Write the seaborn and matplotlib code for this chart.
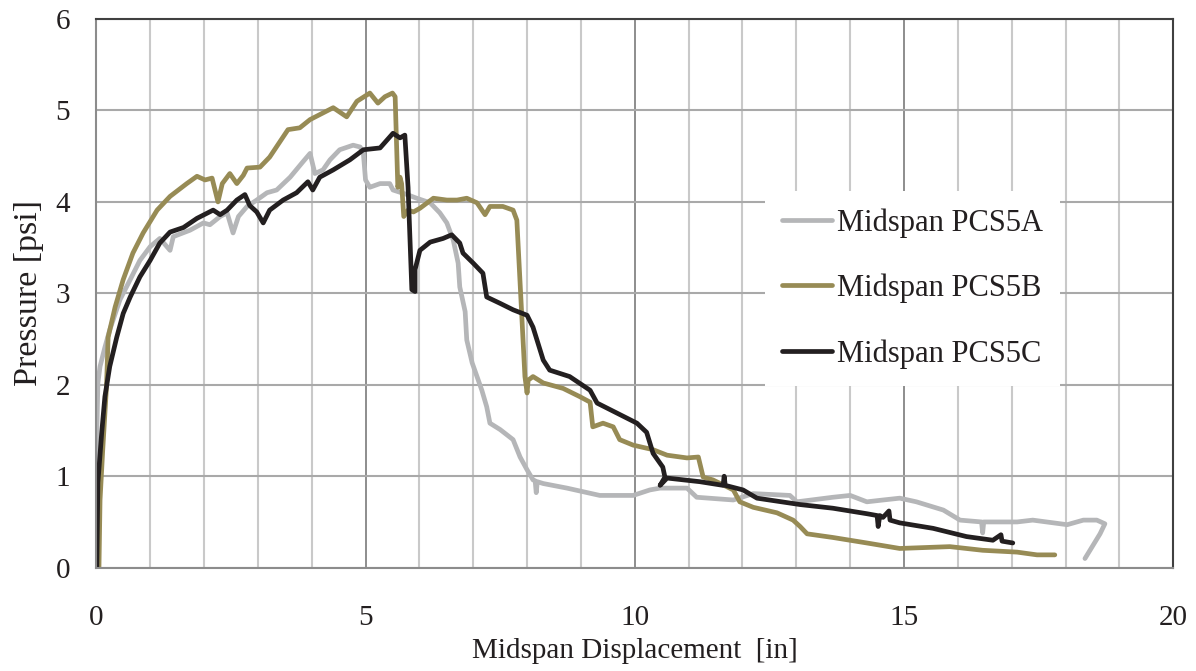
import pandas as pd
import seaborn as sns
import matplotlib.pyplot as plt
from matplotlib.ticker import MultipleLocator

# Midspan PCS5A (light gray)
a_disp = [0.00, 0.01, 0.03, 0.07, 0.16, 0.25, 0.44, 0.63, 0.81, 1.00, 1.18, 1.37, 1.43, 1.74,
          1.99, 2.11, 2.30, 2.43, 2.54, 2.64, 2.80, 2.98, 3.17, 3.35, 3.60, 3.84, 3.97, 4.06,
          4.21, 4.34, 4.52, 4.77, 4.90, 4.96, 5.00, 5.08, 5.27, 5.45, 5.51, 5.77, 5.95, 6.20,
          6.38, 6.51, 6.63, 6.72, 6.75, 6.85, 6.88, 6.98, 7.16, 7.25, 7.31, 7.50, 7.74, 7.87,
          8.00, 8.11, 8.15, 8.17, 8.19, 8.30, 8.74, 9.35, 9.97, 10.28, 10.47, 10.97, 11.15,
          11.83, 12.20, 12.88, 13.01, 13.68, 14.00, 14.31, 14.61, 14.92, 15.23, 15.73, 16.04,
          16.44, 16.46, 16.48, 17.10, 17.39, 18.03, 18.33, 18.58, 18.73, 18.64, 18.36]
a_pres = [0.60, 1.47, 2.02, 2.20, 2.41, 2.60, 2.93, 3.15, 3.36, 3.51, 3.60, 3.47, 3.62, 3.69,
          3.77, 3.75, 3.84, 3.88, 3.66, 3.84, 3.95, 4.02, 4.10, 4.13, 4.27, 4.44, 4.53, 4.31,
          4.35, 4.46, 4.57, 4.62, 4.60, 4.53, 4.24, 4.16, 4.20, 4.20, 4.13, 4.08, 4.04, 3.99,
          3.88, 3.77, 3.58, 3.33, 3.07, 2.80, 2.49, 2.24, 1.94, 1.76, 1.58, 1.51, 1.40, 1.21,
          1.07, 0.96, 0.95, 0.82, 0.94, 0.92, 0.87, 0.79, 0.79, 0.85, 0.87, 0.87, 0.77,
          0.74, 0.81, 0.79, 0.72, 0.77, 0.79, 0.72, 0.74, 0.76, 0.72, 0.63, 0.52,
          0.50, 0.38, 0.50, 0.50, 0.52, 0.47, 0.52, 0.52, 0.48, 0.37, 0.10]

# Midspan PCS5B (olive)
b_disp = [0.05, 0.07, 0.12, 0.19, 0.22, 0.35, 0.50, 0.68, 0.87, 1.13, 1.37, 1.68, 1.87, 2.02,
          2.15, 2.26, 2.34, 2.48, 2.61, 2.73, 2.80, 3.04, 3.22, 3.56, 3.78, 3.97, 4.40, 4.65,
          4.84, 5.08, 5.23, 5.36, 5.50, 5.55, 5.60, 5.64, 5.67, 5.71, 5.79, 5.89, 6.01, 6.26,
          6.51, 6.70, 6.88, 7.07, 7.22, 7.31, 7.55, 7.74, 7.81, 7.96, 8.00, 8.02, 8.11, 8.30,
          8.67, 8.98, 9.17, 9.22, 9.41, 9.60, 9.72, 9.97, 10.34, 10.60, 10.97, 11.18, 11.27,
          11.45, 11.83, 11.95, 12.20, 12.64, 12.94, 13.07, 13.20, 13.68, 14.31, 14.92, 15.85,
          16.46, 17.10, 17.47, 17.80]
b_pres = [0.00, 0.74, 1.29, 1.98, 2.52, 2.85, 3.15, 3.44, 3.66, 3.91, 4.06, 4.20, 4.28, 4.24,
          4.26, 4.00, 4.20, 4.31, 4.20, 4.29, 4.37, 4.38, 4.49, 4.79, 4.81, 4.90, 5.03, 4.93,
          5.10, 5.19, 5.08, 5.15, 5.19, 5.15, 4.16, 4.27, 4.20, 3.84, 3.91, 3.89, 3.93, 4.04,
          4.02, 4.02, 4.04, 3.99, 3.86, 3.95, 3.95, 3.91, 3.80, 2.09, 1.91, 2.05, 2.09, 2.02,
          1.96, 1.87, 1.81, 1.54, 1.58, 1.54, 1.40, 1.34, 1.29, 1.23, 1.20, 1.21, 0.99,
          0.96, 0.85, 0.72, 0.66, 0.60, 0.52, 0.45, 0.37, 0.33, 0.27, 0.21, 0.23,
          0.19, 0.17, 0.14, 0.14]

# Midspan PCS5C (black)
c_disp = [0.01, 0.03, 0.10, 0.16, 0.25, 0.38, 0.50, 0.63, 0.81, 1.00, 1.18, 1.37, 1.62, 1.87,
          2.17, 2.30, 2.43, 2.61, 2.76, 2.85, 2.98, 3.10, 3.22, 3.47, 3.72, 3.93, 4.02, 4.15,
          4.40, 4.71, 4.96, 5.27, 5.51, 5.64, 5.73, 5.79, 5.86, 5.92, 5.92, 6.01, 6.20, 6.44,
          6.60, 6.75, 6.81, 7.00, 7.18, 7.25, 7.50, 7.74, 8.00, 8.11, 8.30, 8.42, 8.79, 9.17,
          9.30, 9.67, 10.04, 10.22, 10.34, 10.52, 10.56, 10.47, 10.60, 11.21, 11.64, 11.66,
          11.68, 12.01, 12.27, 13.07, 13.68, 14.31, 14.50, 14.52, 14.55, 14.61, 14.72, 14.74,
          14.92, 15.54, 16.16, 16.65, 16.80, 16.82, 17.02]
c_pres = [0.00, 0.93, 1.47, 1.87, 2.20, 2.52, 2.78, 2.96, 3.18, 3.36, 3.55, 3.67, 3.72, 3.82,
          3.91, 3.86, 3.91, 4.02, 4.08, 3.96, 3.89, 3.77, 3.91, 4.02, 4.10, 4.22, 4.13, 4.27,
          4.35, 4.46, 4.57, 4.59, 4.75, 4.70, 4.73, 4.16, 3.04, 3.02, 3.26, 3.47, 3.56, 3.60,
          3.64, 3.55, 3.44, 3.33, 3.22, 2.96, 2.89, 2.82, 2.76, 2.63, 2.27, 2.16, 2.09, 1.94,
          1.80, 1.69, 1.58, 1.48, 1.25, 1.10, 0.99, 0.90, 0.98, 0.94, 0.90, 1.00,
          0.90, 0.85, 0.76, 0.69, 0.65, 0.59, 0.57, 0.45, 0.57, 0.55, 0.62, 0.52,
          0.49, 0.43, 0.34, 0.30, 0.36, 0.29, 0.27]

labels = ['Midspan PCS5A', 'Midspan PCS5B', 'Midspan PCS5C']
colors = ['#b5b6b8', '#978b55', '#231f20']

df = pd.concat([
    pd.DataFrame({'disp': a_disp, 'pres': a_pres, 'series': labels[0]}),
    pd.DataFrame({'disp': b_disp, 'pres': b_pres, 'series': labels[1]}),
    pd.DataFrame({'disp': c_disp, 'pres': c_pres, 'series': labels[2]}),
], ignore_index=True)

sns.set_style("white")
plt.rcParams['font.family'] = ['Liberation Serif', 'DejaVu Serif']

fig = plt.figure(figsize=(11.96, 6.71), dpi=100)
ax = fig.add_axes([0.0805, 0.154, 0.9005, 0.8177])

sns.lineplot(data=df, x='disp', y='pres', hue='series', hue_order=labels,
             palette=dict(zip(labels, colors)), sort=False, estimator=None,
             linewidth=3.4, ax=ax)

ax.set_xlim(0, 20)
ax.set_ylim(0, 6)
ax.xaxis.set_major_locator(MultipleLocator(5))
ax.xaxis.set_minor_locator(MultipleLocator(1))
ax.yaxis.set_major_locator(MultipleLocator(1))
ax.yaxis.set_minor_locator(MultipleLocator(0.2))

# grid: light minor verticals, darker majors
ax.set_axisbelow(True)
ax.grid(which='minor', axis='x', color='#c9c9c9', linewidth=1.5)
ax.grid(which='major', axis='x', color='#7a7a7a', linewidth=1.2)
ax.grid(which='major', axis='y', color='#a9a9a9', linewidth=1.5)

ax.tick_params(axis='both', which='major', direction='out', length=7, width=1.2,
               color='#8c8c8c', labelsize=21, labelcolor='#231f20')
ax.tick_params(axis='y', which='major', pad=12)
ax.tick_params(axis='x', which='major', pad=20)
ax.tick_params(axis='y', which='minor', direction='in', length=5, width=1.2, color='#8c8c8c')
ax.tick_params(axis='x', which='minor', direction='in', length=4, width=1.2, color='#c9c9c9')

for side in ['top', 'right']:
    ax.spines[side].set_color('#404040')
    ax.spines[side].set_linewidth(1.5)
for side in ['left', 'bottom']:
    ax.spines[side].set_color('#8c8c8c')
    ax.spines[side].set_linewidth(1.5)

ax.set_xlabel('Midspan Displacement  [in]', fontsize=21, color='#231f20', labelpad=5)
ax.set_ylabel('Pressure [psi]', fontsize=24.5, color='#231f20', labelpad=8)

handles, labs = ax.get_legend_handles_labels()
leg = ax.legend(handles, labs, loc='center', bbox_to_anchor=(0.758, 0.509),
                frameon=True, fancybox=False, framealpha=1, facecolor='white',
                edgecolor='white', fontsize=22, handlelength=1.63, handletextpad=0.16,
                labelspacing=1.18, borderpad=0.55)
leg.get_frame().set_linewidth(0)
for h in leg.get_lines():
    h.set_linewidth(3.4)
for t in leg.get_texts():
    t.set_color('#231f20')

fig.savefig('out.png', dpi=100)
